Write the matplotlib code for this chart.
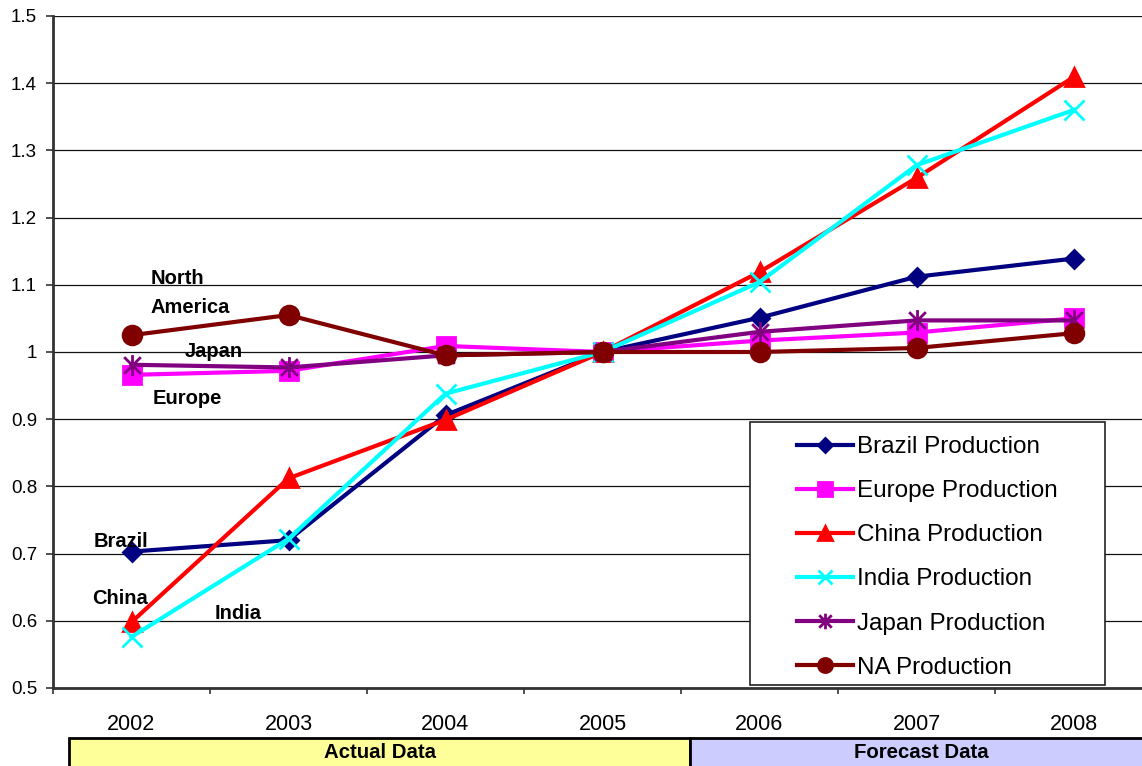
import matplotlib
matplotlib.use("Agg")
import matplotlib.pyplot as plt
from matplotlib.path import Path
from matplotlib.patches import Rectangle

plt.rcParams['font.family'] = ['Liberation Sans', 'DejaVu Sans']

# Production index (2005 = 1.0)
years = ['2002', '2003', '2004', '2005', '2006', '2007', '2008']
brazil = [0.703, 0.720, 0.906, 1.000, 1.051, 1.112, 1.139]
europe = [0.966, 0.972, 1.009, 1.000, 1.017, 1.029, 1.050]
china = [0.598, 0.812, 0.899, 1.000, 1.119, 1.259, 1.409]
india = [0.576, 0.722, 0.938, 1.000, 1.104, 1.278, 1.360]
japan = [0.981, 0.977, 0.995, 1.000, 1.030, 1.047, 1.047]
north_america = [1.025, 1.055, 0.995, 1.000, 1.000, 1.006, 1.028]

y_ticks = [0.5, 0.6, 0.7, 0.8, 0.9, 1.0, 1.1, 1.2, 1.3, 1.4, 1.5]
y_tick_labels = ['0.5', '0.6', '0.7', '0.8', '0.9', '1', '1.1', '1.2', '1.3', '1.4', '1.5']

W, H = 1142, 766
fig = plt.figure(figsize=(W / 100, H / 100), dpi=100)


def fx(px):
    return px / W


def fy(py):
    return 1 - py / H


ax = fig.add_axes([fx(53), fy(688), fx(1152) - fx(53), fy(16) - fy(688)])

# Asterisk marker: vertical bar plus an X
star = Path([(0, -1), (0, 1), (-0.8, -0.8), (0.8, 0.8), (-0.8, 0.8), (0.8, -0.8)],
            [Path.MOVETO, Path.LINETO] * 3)

x = list(range(len(years)))
series = [
    ('Brazil Production', brazil, '#000080', 'D', 9.5),
    ('Europe Production', europe, '#FF00FF', 's', 13),
    ('China Production', china, '#FF0000', '^', 13.5),
    ('India Production', india, '#00FFFF', 'x', 14),
    ('Japan Production', japan, '#800080', star, 15),
    ('NA Production', north_america, '#800000', 'o', 13.5),
]
handles = []
for label, vals, color, marker, ms in series:
    ln, = ax.plot(x, vals, color=color, lw=3, marker=marker, ms=ms,
                  markerfacecolor=color, markeredgecolor=color, mew=2,
                  label=label, zorder=3, clip_on=False)
    handles.append(ln)

ax.set_xlim(-0.5, len(years) - 0.5)
ax.set_ylim(0.5, 1.5)
ax.set_yticks(y_ticks)
ax.set_yticklabels(y_tick_labels)
ax.yaxis.grid(True, color='#111111', lw=0.9)
ax.set_axisbelow(True)

# Category boundaries carry the tick marks; labels sit at category centres
ax.set_xticks([i - 0.5 for i in range(len(years) + 1)])
ax.set_xticklabels([])
ax.set_xticks(x, minor=True)
ax.set_xticklabels(years, minor=True)
ax.tick_params(axis='x', which='major', direction='out', length=4.5, width=1.2, color='#333333')
ax.tick_params(axis='x', which='minor', length=0, pad=19, labelsize=15.5)
ax.tick_params(axis='y', direction='out', length=5, width=1.2, color='#333333', pad=6.5, labelsize=13.5)

for s in ['top', 'right']:
    ax.spines[s].set_visible(False)
for s in ['left', 'bottom']:
    ax.spines[s].set_color('#333333')
    ax.spines[s].set_linewidth(2)

# Series labels inside the plot
lab = dict(fontsize=14.5, fontweight='bold', ha='left', va='baseline', zorder=4)
ax.text(0.121, 1.1015, 'North', **lab)
ax.text(0.121, 1.0585, 'America', **lab)
ax.text(0.337, 0.9926, 'Japan', **lab)
ax.text(0.134, 0.9226, 'Europe', **lab)
ax.text(-0.242, 0.7103, 'Brazil', **lab)
ax.text(-0.248, 0.625, 'China', **lab)
ax.text(0.528, 0.6022, 'India', **lab)

# Legend box
ax.add_patch(Rectangle((fx(750), fy(685)), fx(1105) - fx(750), fy(422) - fy(685),
                       transform=fig.transFigure, facecolor='white', clip_on=False,
                       edgecolor='#222222', lw=1.2, zorder=5))
leg = ax.legend(handles=handles, loc='upper left', bbox_to_anchor=(fx(797), fy(436)),
                bbox_transform=fig.transFigure, frameon=False, fontsize=17.5,
                borderpad=0, borderaxespad=0, handlelength=2.3, handletextpad=0.17,
                labelspacing=0.91, markerscale=0.75)
leg.set_zorder(6)

# Actual / forecast bands under the axis
fig.add_artist(Rectangle((fx(69), -0.01), fx(690) - fx(69), fy(738) + 0.01,
                         transform=fig.transFigure, facecolor='#FFFF99',
                         edgecolor='black', lw=2, zorder=5))
fig.add_artist(Rectangle((fx(690), -0.01), fx(1160) - fx(690), fy(738) + 0.01,
                         transform=fig.transFigure, facecolor='#CCCCFF',
                         edgecolor='black', lw=2, zorder=5))
fig.text(fx(380), fy(753), 'Actual Data', fontsize=14.7, fontweight='bold',
         ha='center', va='center', zorder=6)
fig.text(fx(921), fy(753), 'Forecast Data', fontsize=14.7, fontweight='bold',
         ha='center', va='center', zorder=6)

fig.savefig('out.png', dpi=100)
